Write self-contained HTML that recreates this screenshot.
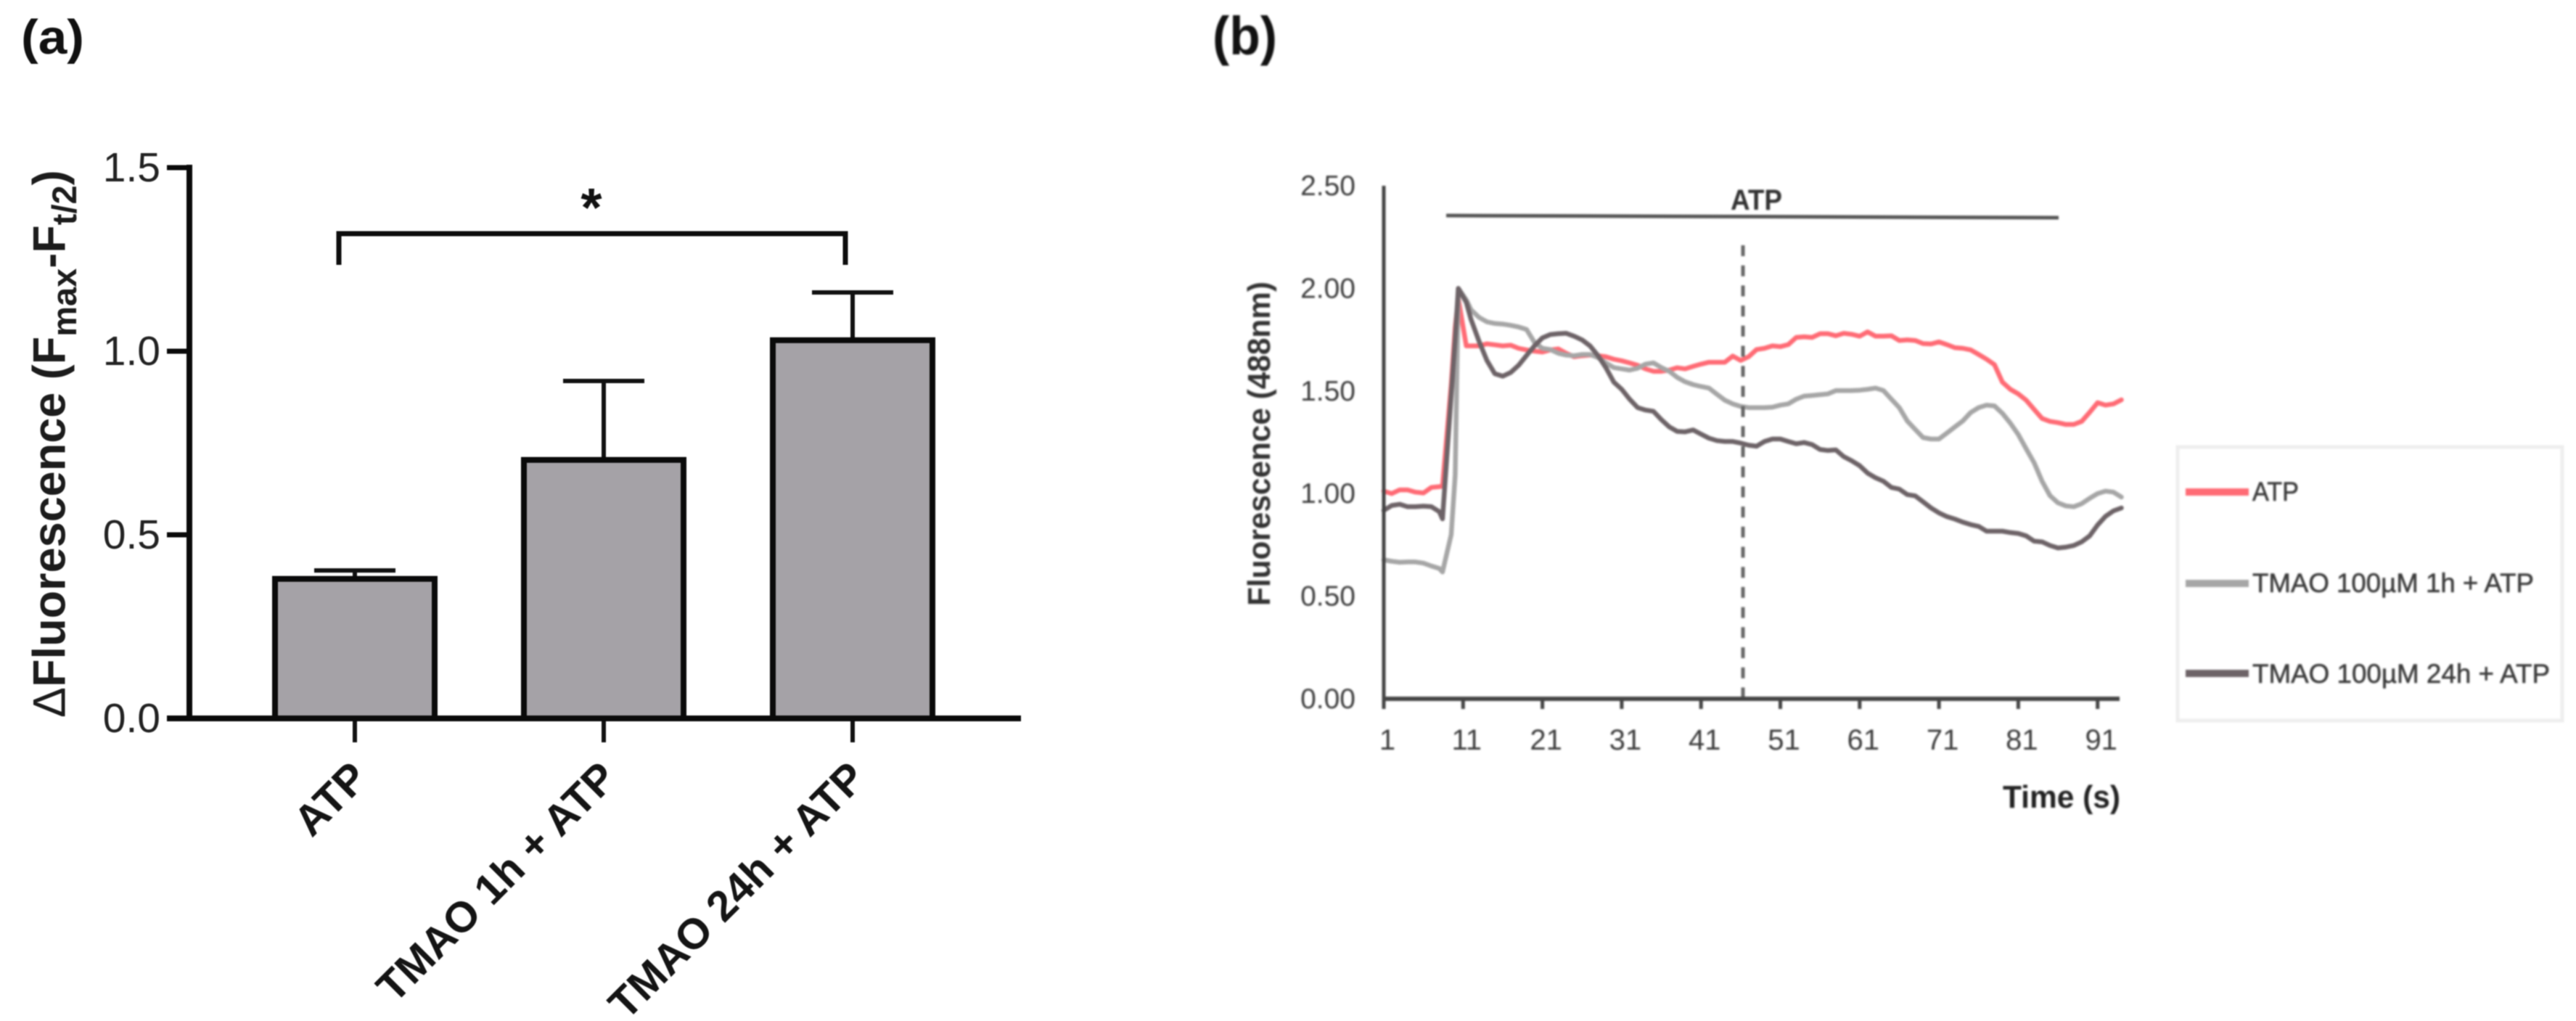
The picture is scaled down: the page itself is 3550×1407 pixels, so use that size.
<!DOCTYPE html>
<html lang="en">
<head>
<meta charset="utf-8">
<title>Fluorescence response charts</title>
<style>
html,body{margin:0;padding:0;background:#fff;width:3550px;height:1407px;overflow:hidden}
svg{display:block}
text{font-family:"Liberation Sans",sans-serif}
</style>
</head>
<body>
<svg id="figure" xmlns="http://www.w3.org/2000/svg" width="3550" height="1407" viewBox="0 0 3550 1407">
  <rect x="0" y="0" width="3550" height="1407" fill="#fff"/>

  <g id="panel-a" style="filter:blur(0.8px)">
    <text x="29" y="74" font-size="67" font-weight="700" fill="#111" textLength="87" lengthAdjust="spacingAndGlyphs">(a)</text>
    <text transform="translate(89.5,989) rotate(-90)" font-size="63" font-weight="700" fill="#1c1c1c"><tspan font-weight="400">Δ</tspan>Fluorescence (F<tspan font-size="47" dy="15.5">max</tspan><tspan dy="-15.5">-F</tspan><tspan font-size="47" dy="15.5">t/2</tspan><tspan dy="-15.5">)</tspan></text>
    <g id="a-marks"></g>
    <g id="a-axes"></g>
    <path d="M467 365V322H1165V365" fill="none" stroke="#0d0d0d" stroke-width="7"/>
    <text x="815" y="312" font-size="75" font-weight="700" text-anchor="middle" fill="#111">*</text>
  </g>

  <g id="panel-b" style="filter:blur(1.2px)">
    <text x="1671" y="75" font-size="74" font-weight="700" fill="#111" textLength="89" lengthAdjust="spacingAndGlyphs">(b)</text>
    <text transform="translate(1750,835) rotate(-90)" font-size="44" font-weight="700" fill="#333" textLength="447" lengthAdjust="spacingAndGlyphs">Fluorescence (488nm)</text>
    <text x="2760" y="1113" font-size="44" font-weight="700" fill="#222" textLength="162" lengthAdjust="spacingAndGlyphs">Time (s)</text>
    <line x1="1993" y1="297" x2="2837" y2="300" stroke="#555" stroke-width="5"/>
    <text x="2385" y="289" font-size="40" font-weight="700" fill="#333" textLength="71" lengthAdjust="spacingAndGlyphs">ATP</text>
    <g id="b-lines"></g>
    <line x1="2402" y1="338" x2="2402" y2="963" stroke="#666" stroke-width="5" stroke-dasharray="15 12.7"/>
    <g id="b-axes"></g>
    <g>
      <rect x="3001" y="616" width="530" height="377" fill="#fff" stroke="#eeeeee" stroke-width="5"/>
      <line x1="3012" y1="678" x2="3099" y2="678" stroke="#ff6b75" stroke-width="10"/>
      <text x="3104" y="690" font-size="37" fill="#3c3c3c" stroke="#3c3c3c" stroke-width="0.6" textLength="64" lengthAdjust="spacingAndGlyphs">ATP</text>
      <line x1="3012" y1="804" x2="3099" y2="804" stroke="#a6a6a6" stroke-width="10"/>
      <text x="3104" y="816" font-size="37" fill="#3c3c3c" stroke="#3c3c3c" stroke-width="0.6" textLength="388" lengthAdjust="spacingAndGlyphs">TMAO 100µM 1h + ATP</text>
      <line x1="3012" y1="928" x2="3099" y2="928" stroke="#6d6367" stroke-width="10"/>
      <text x="3104" y="941" font-size="37" fill="#3c3c3c" stroke="#3c3c3c" stroke-width="0.6" textLength="410" lengthAdjust="spacingAndGlyphs">TMAO 100µM 24h + ATP</text>
    </g>
  </g>
</svg>

<script>
const barCategories = ["ATP", "TMAO 1h + ATP", "TMAO 24h + ATP"];
const barValues = [0.38, 0.704, 1.03];
const barErrorTops = [0.403, 0.919, 1.16];
const barTickLabels = ["0.0", "0.5", "1.0", "1.5"];
const barTickValues = [0, 0.5, 1, 1.5];

const lineTickLabels = ["0.00", "0.50", "1.00", "1.50", "2.00", "2.50"];
const lineTickValues = [0, 0.5, 1, 1.5, 2, 2.5];
const timeTickValues = [1, 11, 21, 31, 41, 51, 61, 71, 81, 91];

const times = [1,2,3,4,5,6,7,8,8.4,9.5,10,10.4,11.4,12,13,14,15,16,17,18,19,20,21,22,23,24,25,26,27,28,29,30,31,32,33,34,35,36,37,38,39,40,41,42,43,44,45,46,47,48,49,50,51,52,53,54,55,56,57,58,59,60,61,62,63,64,65,66,67,68,69,70,71,72,73,74,75,76,77,78,79,80,81,82,83,84,85,86,87,88,89,90,91,92,93,94];
const atpSeries = [1.012,1.0,1.018,1.018,1.007,1.003,1.03,1.034,1.036,1.53,1.81,1.95,1.72,1.72,1.72,1.73,1.725,1.72,1.723,1.708,1.70,1.694,1.69,1.70,1.705,1.684,1.667,1.672,1.675,1.672,1.667,1.655,1.647,1.637,1.625,1.608,1.596,1.596,1.602,1.613,1.608,1.62,1.631,1.64,1.64,1.64,1.67,1.649,1.667,1.702,1.708,1.72,1.716,1.726,1.761,1.764,1.761,1.779,1.779,1.769,1.781,1.776,1.767,1.788,1.767,1.767,1.769,1.746,1.749,1.746,1.731,1.729,1.739,1.726,1.711,1.708,1.70,1.678,1.655,1.628,1.543,1.508,1.486,1.455,1.41,1.366,1.352,1.346,1.337,1.337,1.352,1.396,1.443,1.431,1.437,1.457];
const tmao1hSeries = [0.677,0.67,0.665,0.667,0.667,0.661,0.647,0.635,0.618,0.80,1.09,2.0,1.944,1.896,1.859,1.837,1.829,1.826,1.82,1.812,1.80,1.737,1.708,1.702,1.684,1.675,1.672,1.678,1.678,1.663,1.637,1.614,1.608,1.602,1.611,1.631,1.637,1.614,1.596,1.566,1.545,1.531,1.522,1.514,1.484,1.455,1.437,1.425,1.419,1.419,1.419,1.421,1.431,1.437,1.46,1.475,1.478,1.482,1.486,1.502,1.502,1.502,1.504,1.508,1.514,1.502,1.46,1.419,1.354,1.313,1.273,1.266,1.266,1.295,1.325,1.354,1.395,1.419,1.431,1.427,1.391,1.343,1.288,1.218,1.15,1.06,0.99,0.955,0.94,0.936,0.951,0.977,1.0,1.012,1.007,0.983];
const tmao24hSeries = [0.918,0.942,0.948,0.936,0.936,0.939,0.936,0.912,0.877,1.478,1.755,2.0,1.932,1.849,1.743,1.649,1.584,1.572,1.59,1.625,1.673,1.72,1.759,1.775,1.779,1.781,1.767,1.749,1.72,1.673,1.614,1.543,1.508,1.46,1.419,1.407,1.401,1.36,1.325,1.303,1.301,1.31,1.29,1.27,1.258,1.254,1.254,1.246,1.236,1.231,1.254,1.266,1.266,1.254,1.243,1.249,1.239,1.215,1.21,1.213,1.18,1.16,1.136,1.10,1.077,1.06,1.03,1.022,0.995,0.989,0.96,0.93,0.906,0.888,0.876,0.861,0.849,0.84,0.817,0.817,0.817,0.81,0.806,0.794,0.768,0.765,0.747,0.735,0.739,0.747,0.765,0.794,0.847,0.889,0.916,0.93];

const SVG_NS = "http://www.w3.org/2000/svg";
function make(parent, tag, attrs, content) {
  const el = document.createElementNS(SVG_NS, tag);
  for (const k in attrs) el.setAttribute(k, attrs[k]);
  if (content !== undefined) el.textContent = content;
  parent.appendChild(el);
  return el;
}

/* Panel (a) axis functions */
const barY = v => 990 - 506 * v;
const barX = i => 489 + 343 * i;
const BAR_HALF = 110;
const aMarks = document.getElementById("a-marks");
const aAxes = document.getElementById("a-axes");

barValues.forEach((v, i) => {
  const cx = barX(i);
  const err = make(aMarks, "line", {x1: cx, x2: cx, y1: barY(v), y2: barY(barErrorTops[i]), stroke: "#111", "stroke-width": 6});
  
  
  const cap = make(aMarks, "line", {x1: cx - 56, x2: cx + 56, y1: barY(barErrorTops[i]), y2: barY(barErrorTops[i]), stroke: "#111", "stroke-width": 6});
  
  
  const bar = make(aMarks, "rect", {x: cx - BAR_HALF, y: barY(v), width: BAR_HALF * 2, height: barY(0) - barY(v), fill: "#a5a2a7", stroke: "#0a0a0a", "stroke-width": 8});
  
  
  const tick = make(aAxes, "line", {x1: cx, x2: cx, y1: barY(0), y2: 1023, stroke: "#111", "stroke-width": 6});
  
  
  const label = make(aAxes, "text", {transform: "translate(" + (cx + 21) + ",1075) rotate(-45)", "text-anchor": "end", "font-size": 59, "font-weight": 700, fill: "#141414"}, barCategories[i]);
  
  
});

const aYAxis = make(aAxes, "line", {x1: 261, x2: 261, y1: barY(1.5) - 4, y2: barY(0) + 4, stroke: "#0a0a0a", "stroke-width": 8});


const aXAxis = make(aAxes, "line", {x1: 230, x2: 1407, y1: barY(0), y2: barY(0), stroke: "#0a0a0a", "stroke-width": 8});


barTickValues.forEach((v, i) => {
  const tick = make(aAxes, "line", {x1: 230, x2: 261, y1: barY(v), y2: barY(v), stroke: "#0a0a0a", "stroke-width": 7});
  
  
  const label = make(aAxes, "text", {x: 221, y: barY(v) + 19, "text-anchor": "end", "font-size": 57, fill: "#222"}, barTickLabels[i]);
  
  
});

/* Panel (b) axis functions */
const lineX = t => 1907 + 10.93 * (t - 1);
const lineY = v => 963 - 282.8 * v;
const bLines = document.getElementById("b-lines");
const bAxes = document.getElementById("b-axes");

function drawSeries(values, color, name) {
  const pts = values.map((v, i) => lineX(times[i]).toFixed(1) + "," + lineY(v).toFixed(1)).join(" ");
  const line = make(bLines, "polyline", {points: pts, fill: "none", stroke: color, "stroke-width": 6.5, "stroke-linejoin": "round", "stroke-linecap": "round"});
  
  
}
drawSeries(atpSeries, "#ff6b75", "series-atp");
drawSeries(tmao1hSeries, "#a6a6a6", "series-tmao-1h");
drawSeries(tmao24hSeries, "#6d6367", "series-tmao-24h");

const bYAxis = make(bAxes, "line", {x1: 1907, x2: 1907, y1: lineY(2.5), y2: 977, stroke: "#444", "stroke-width": 5});


const bXAxis = make(bAxes, "line", {x1: 1907, x2: 2921, y1: lineY(0), y2: lineY(0), stroke: "#444", "stroke-width": 6});


lineTickValues.forEach((v, i) => {
  const label = make(bAxes, "text", {x: 1868, y: lineY(v) + 13, "text-anchor": "end", "font-size": 39, fill: "#3c3c3c"}, lineTickLabels[i]);
  
  
});
timeTickValues.forEach(t => {
  const tick = make(bAxes, "line", {x1: lineX(t), x2: lineX(t), y1: lineY(0), y2: 977, stroke: "#444", "stroke-width": 5});
  
  
  const label = make(bAxes, "text", {x: lineX(t) + 5, y: 1033, "text-anchor": "middle", "font-size": 40, fill: "#3c3c3c"}, String(t));
  
  
});
</script>
</body>
</html>
